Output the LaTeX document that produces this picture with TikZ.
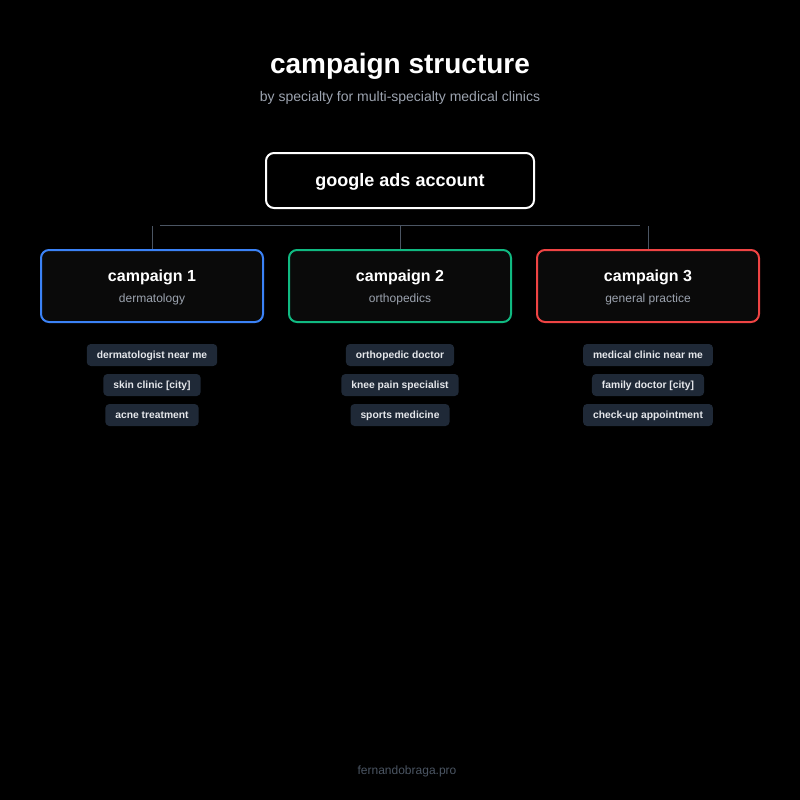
\documentclass[tikz,border=0pt]{standalone}
\usepackage{fontspec}
\setmainfont{Liberation Sans}
\definecolor{bg}{HTML}{000000}
\definecolor{boxfill}{HTML}{0A0A0A}
\definecolor{pillfill}{HTML}{1F2937}
\definecolor{pilltext}{HTML}{E5E7EB}
\definecolor{subgray}{HTML}{9CA3AF}
\definecolor{linegray}{HTML}{4B5563}
\definecolor{cblue}{HTML}{3B82F6}
\definecolor{cgreen}{HTML}{10B981}
\definecolor{cred}{HTML}{EF4444}
\tikzset{
  campbox/.style={draw=#1, line width=2pt, fill=boxfill, rounded corners=8pt, minimum width=222pt, minimum height=72pt},
  pill/.style={fill=pillfill, rounded corners=4pt, minimum height=22pt, inner xsep=10pt, inner ysep=0pt, text height=7.5pt, text depth=0pt, text=pilltext, font=\fontsize{10.3}{12}\selectfont\bfseries},
  ctitle/.style={text=white, font=\fontsize{16}{19}\selectfont\bfseries},
  csub/.style={text=subgray, font=\fontsize{12}{14}\selectfont},
  conn/.style={draw=linegray, line width=1pt}
}
\begin{document}
\begin{tikzpicture}[x=1pt,y=-1pt]
\fill[bg] (0,0) rectangle (800,800);
\useasboundingbox (0,0) rectangle (800,800);
\node[text=white, font=\fontsize{28}{32}\selectfont\bfseries] (title) at (400,66) {campaign structure};
\node[text=subgray, font=\fontsize{14}{17}\selectfont] (subtitle) at (400,98) {by specialty for multi-specialty medical clinics};
\node[draw=white, line width=2pt, fill=bg, rounded corners=8pt, minimum width=268pt, minimum height=55pt] (root) at (400,180.5) {};
\node[text=white, font=\fontsize{18}{22}\selectfont\bfseries] (roottext) at (400,181.5) {google ads account};

\coordinate (hl) at (160,225);
\coordinate (hr) at (640,225);
\draw[conn] (hl) -- (hr);

\foreach \i/\x/\c/\s in {1/152/cblue/dermatology, 2/400/cgreen/orthopedics, 3/648/cred/general practice}{
  \node[campbox=\c] (c\i) at (\x,286) {};
  \node[ctitle] (ct\i) at (\x,277) {campaign \i};
  \node[csub] (cs\i) at (\x,299) {\s};
  \coordinate (top\i) at (\x,226);
  \draw[conn] (top\i) -- (c\i.north);
}

\node[pill] (k11) at (152,355) {dermatologist near me};
\node[pill] (k12) at (152,385) {skin clinic [city]};
\node[pill] (k13) at (152,415) {acne treatment};
\node[pill] (k21) at (400,355) {orthopedic doctor};
\node[pill] (k22) at (400,385) {knee pain specialist};
\node[pill] (k23) at (400,415) {sports medicine};
\node[pill] (k31) at (648,355) {medical clinic near me};
\node[pill] (k32) at (648,385) {family doctor [city]};
\node[pill] (k33) at (648,415) {check-up appointment};

\node[text=linegray, font=\fontsize{12}{14}\selectfont] (footer) at (407,771) {fernandobraga.pro};
\end{tikzpicture}
\end{document}
